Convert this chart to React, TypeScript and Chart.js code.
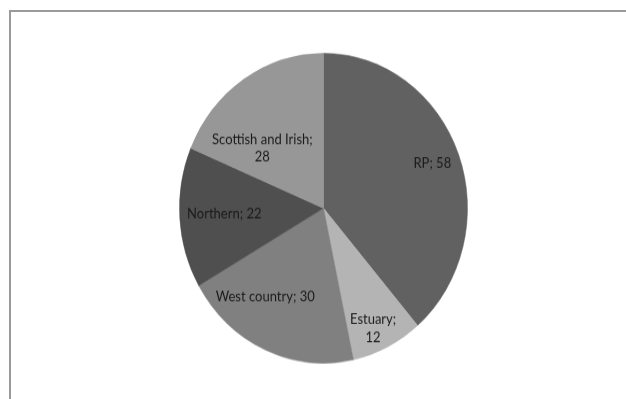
import React, { useEffect, useRef } from "react";
import { Chart, registerables } from "chart.js";

Chart.register(...registerables);

const categories = ["RP", "Estuary", "West country", "Northern", "Scottish and Irish"];
const values = [58, 12, 30, 22, 28];
const labelLines = [["RP; 58"], ["Estuary;", "12"], ["West country; 30"], ["Northern; 22"], ["Scottish and Irish;", "28"]];

const sliceColors = ["#616161", "#b4b4b4", "#808080", "#4f4f4f", "#979797"];
// label placement (style): angular nudge in degrees and fraction of radius
const labelAngleShift = [-0.7, 2.5, 11.3, 0.4, -14];
const labelRadius = [0.81, 0.85, 0.7, 0.69, 0.575];

const SCALE_Y = 1.076;
const W = 626;
const H = Math.round(399 / SCALE_Y);

const labelPlugin = {
  id: "sliceLabels",
  afterDatasetsDraw(chart: any) {
    const ctx = chart.ctx;
    const meta = chart.getDatasetMeta(0);
    ctx.save();
    ctx.font = "13px Lato";
    ctx.fillStyle = "#1a1a1a";
    ctx.textAlign = "center";
    ctx.textBaseline = "middle";
    meta.data.forEach((arc: any, i: number) => {
      const p = arc.getProps(["x", "y", "startAngle", "endAngle", "outerRadius"], true);
      const mid = (p.startAngle + p.endAngle) / 2 + (labelAngleShift[i] * Math.PI) / 180;
      const r = p.outerRadius * labelRadius[i];
      const lx = p.x + Math.cos(mid) * r;
      const ly = p.y + Math.sin(mid) * r;
      const lines = labelLines[i];
      const lh = 16.5;
      lines.forEach((t, k) => {
        ctx.fillText(t, lx, ly + (k - (lines.length - 1) / 2) * lh);
      });
    });
    ctx.restore();
  },
};

export default function App() {
  const ref = useRef<HTMLCanvasElement | null>(null);
  useEffect(() => {
    if (!ref.current) return;
    const chart = new Chart(ref.current, {
      type: "pie",
      data: {
        labels: categories,
        datasets: [
          {
            data: values,
            backgroundColor: sliceColors,
            borderColor: sliceColors,
            borderWidth: 0.5,
            radius: 144,
          } as any,
        ],
      },
      options: {
        responsive: false,
        animation: false,
        devicePixelRatio: 1,
        layout: { padding: { left: 21, right: 0, top: 20, bottom: 4 } },
        plugins: { legend: { display: false }, tooltip: { enabled: false } },
      },
      plugins: [labelPlugin],
    });
    return () => chart.destroy();
  }, []);
  return (
    <div style={{ position: "absolute", left: 0, top: 0, width: W, height: 399, overflow: "hidden", background: "#fff" }}>
      <div
        style={{
          position: "absolute",
          left: 9,
          top: 10,
          width: 700,
          height: 500,
          borderTop: "2px solid #9a9a9a",
          borderLeft: "2px solid #9a9a9a",
          boxSizing: "border-box",
        }}
      />
      <canvas
        ref={ref}
        width={W}
        height={H}
        style={{
          position: "absolute",
          left: 0,
          top: 0,
          width: W,
          height: H,
          transform: `scaleY(${SCALE_Y})`,
          transformOrigin: "0 0",
        }}
      />
    </div>
  );
}
